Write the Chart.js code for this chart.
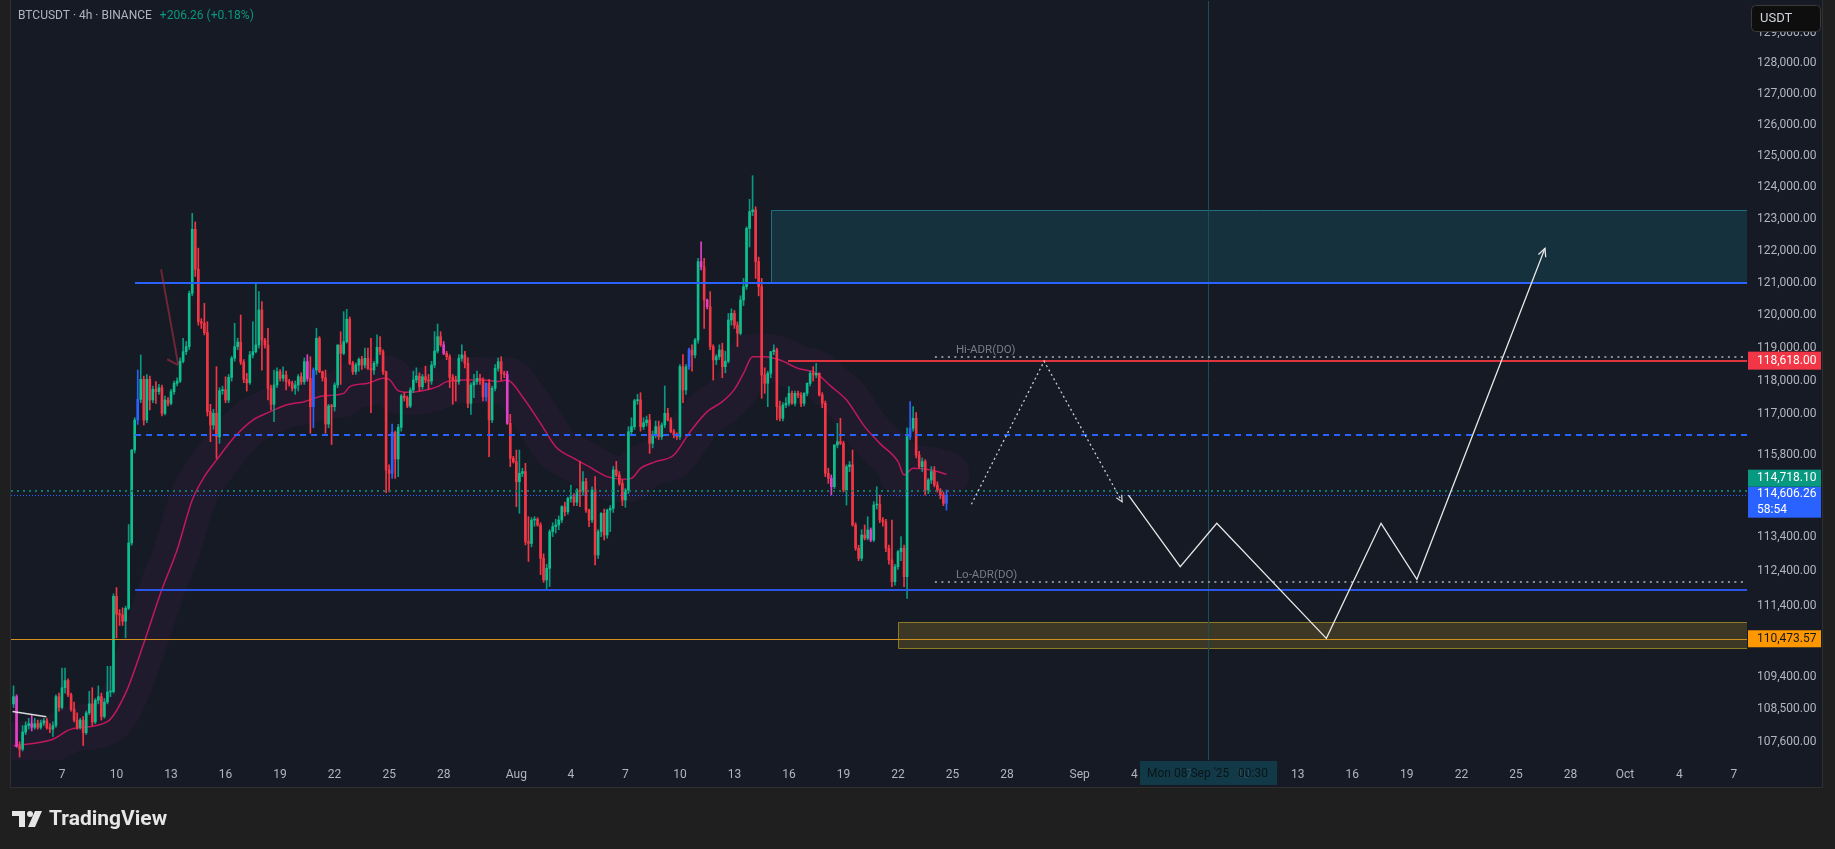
<!DOCTYPE html>
<html>
<head>
<meta charset="utf-8">
<script src="https://cdn.jsdelivr.net/npm/chart.js@4.4.0/dist/chart.umd.min.js"></script>
<style>
  html, body { margin: 0; padding: 0; background: #1f1f1f; overflow: hidden; }
  canvas { display: block; }
</style>
</head>
<body>
<canvas id="btcChart" width="1835" height="849"></canvas>
<script>
// BTCUSDT 4h candles. Day 0 = Jul 1 00:00, first bar Jul 4 08:00
const firstBarDay = 3 + 8 / 24

const opens = [
  108650,108850,107480,107400,107870,108050,108100,108000,108100,108000,
  108120,108180,107990,107950,108050,108850,108550,109100,109300,108900,
  108500,108200,108000,108200,107850,108400,108650,108150,108750,108850,
  108300,108700,108980,108990,111680,111170,111150,110970,111340,113216,
  115937,116830,117450,118054,116830,118054,117430,117750,117680,117800,
  117030,117430,117330,117680,117932,118000,118600,118890,119044,120680,
  122670,121420,119806,119760,119470,117080,116680,117030,116330,117710,
  117740,117430,118110,118690,119044,119180,118575,118054,
  117950,118790,
  118890,119094,120164,119246,119094,117781,117300,117882,118283,118083,
  118183,117983,117932,117781,117882,118132,117982,118586,118083,117230,
  118333,119297,118283,118100,116711,117250,117230,117882,119094,118840,
  119195,119880,118536,118283,118485,118658,118485,118688,118384,118333,
  118536,119023,118890,118283,115346,115248,116463,115672,116612,117550,
  117500,117250,117731,118033,118153,117832,118132,118033,118000,118485,
  118910,119348,119100,118840,118738,118113,118033,117983,118688,118790,
  118536,117330,117882,117982,118083,118033,117530,117932,116831,117781,
  118384,118586,118233,118200,116731,115690,115593,115003,115248,115300,
  113252,113200,113880,113900,113735,112770,112146,112482,113542,113687,
  113735,113880,114270,114120,114514,114560,114400,114757,114708,115003,
  114172,113880,114757,112867,113542,114075,113445,114172,114220,115350,
  115200,114950,114465,114757,116482,116632,117410,117430,116632,116750,
  116831,116135,116400,116632,116334,116682,117030,116831,116482,116384,
  116334,118434,117731,118434,118941,118790,119246,121660,121500,120472,
  120270,119044,118640,118738,118941,118434,118600,119857,120060,119700,
  119450,120472,120884,122700,123224,123280,121660,120884,118183,117932,
  118233,118890,118941,117230,116881,117280,117330,117630,117330,117630,
  117580,117330,117630,117932,118233,118183,118233,117580,117330,115248,
  115100,114855,116085,116185,116135,114757,115445,115500,113735,113060,
  112770,113445,113350,113590,113300,114318,114340,113880,113835,113060,
  112722,112098,112530,112963,113060,112242,116334,116582,116881,115790,
  115445,115593,114757,115052,115300,114905,114757,114611,114367
]
const highs = [
  109150,108900,107600,108050,108150,108250,108350,108250,108200,108200,
  108250,108250,108100,108150,108900,108950,109650,109650,109350,108950,
  108700,108400,108250,108300,108450,109000,109100,108800,109150,108950,
  108800,109700,109700,111750,111930,111300,111350,111400,113750,115950,
  116900,118333,118790,118150,118200,118150,117850,117983,117900,117880,
  117550,117500,117750,118000,118100,118700,119297,119200,120750,123170,
  122900,122080,119900,120370,119806,117300,117150,118434,117800,117850,
  118130,118200,118750,119755,119300,120010,118650,118233,
  118900,119806,
  120970,120730,120420,119300,119604,117882,118333,118400,118350,118434,
  118300,118050,118000,118000,118200,118250,118700,118800,118738,118400,
  119604,119350,118300,118333,117300,117300,117950,119100,119500,120113,
  120185,119950,118600,118550,118700,118750,119000,119000,119297,118600,
  119400,119348,118950,118300,115500,116711,116500,116700,117600,117650,
  117550,117800,118300,118400,118250,118200,118450,118200,118600,119500,
  119735,119500,119200,118900,118800,118200,118150,118800,119100,118900,
  118700,117950,118200,118300,118200,118100,117950,118050,117850,118500,
  118700,118738,118300,118300,117000,115750,115937,115937,115400,115545,
  113980,113950,113980,113950,113800,112900,112600,113600,113800,113900,
  114000,114300,114400,114550,114905,114650,114800,115593,115300,115100,
  114200,114850,115150,113600,114100,114200,114200,114300,115450,115600,
  115300,115050,114800,116632,116900,117450,117600,117650,116900,116950,
  117000,116500,116800,116800,116750,117850,117180,116900,116550,116450,
  118500,118800,118500,119000,119100,119300,121760,122280,121760,120500,
  120730,119100,118800,119100,119150,118900,120060,120200,120150,119800,
  120600,121140,122750,123615,124364,123380,121800,121140,118400,118300,
  118900,119100,119000,117400,117350,117500,117832,117700,117700,117700,
  117650,117650,117950,118300,118436,118536,118250,117650,117400,115400,
  115200,116100,116731,116881,116200,115500,115600,115937,113800,113150,
  113600,113735,113977,113650,114420,114855,114611,113950,113900,113150,
  113880,112600,113000,113400,113150,116600,117380,117232,117050,115900,
  115700,115650,115100,115445,115450,115000,114800,114700,114757
]
const lows = [
  108550,107450,107180,107350,107800,107950,107900,107950,107950,107950,
  108050,107950,107850,107750,108000,108450,108500,108950,108850,108450,
  108150,107950,107950,107500,107800,108350,108050,108100,108650,108200,
  108250,108650,108850,108950,110500,110850,110850,110500,111300,113150,
  115850,116700,117350,116680,116750,117129,117350,117330,117600,116950,
  116980,117250,117280,117600,117850,117950,118550,118800,118950,120600,
  121200,119700,119600,119400,116950,116185,116550,115690,116135,117600,
  117350,117350,118000,118600,118950,118500,117950,117700,
  117900,118700,
  118850,119000,118333,119000,117430,117129,116780,117800,118000,118000,
  117731,117850,117700,117600,117700,117900,117900,118000,116433,116600,
  118200,118250,118000,116433,116600,116100,117100,117800,117900,118800,
  119150,118500,118200,118200,118300,118350,118400,118350,117050,118200,
  118450,118800,118200,114680,114700,115100,115100,115150,116500,117400,
  117200,117200,117650,117950,117700,117750,117950,117750,117900,118400,
  118850,119050,118800,118650,117800,117300,117400,117900,118600,118400,
  117200,117000,117500,117900,117900,117400,117400,115740,116750,117700,
  118300,118030,118100,116700,115445,115550,114270,114075,115150,113156,
  112680,113100,113700,113700,112300,112080,111900,111960,113400,113500,
  113600,113800,114000,114050,114400,114300,114300,114270,114600,114100,
  113687,113800,112578,112770,113400,113300,113350,113542,114100,115150,
  114900,114300,114250,114650,116400,116550,117300,116500,116550,116650,
  115839,116000,116300,116250,116250,116600,116800,116450,116300,116250,
  116250,117350,117600,118350,118300,118700,119150,121400,119600,120200,
  118950,118030,118500,118650,118100,118250,118550,119700,119600,119044,
  119400,120300,120800,122117,123100,121140,120600,117480,117630,117230,
  118100,118800,116831,116800,116800,117200,117250,117300,117250,117500,
  117230,117250,117550,117850,118000,118100,117550,117200,115150,114950,
  114611,114800,116000,116100,114700,114318,115300,113700,113000,112700,
  112700,113300,113300,113250,113250,114200,113800,113700,112960,112600,
  111955,112000,112450,112700,111955,111622,116250,116500,115700,115400,
  115300,114611,114650,114950,114850,114700,114500,114300,114170
]
const closes = [
  108850,107480,107400,107870,108050,108100,108000,108100,108000,108120,
  108180,107990,107950,108050,108850,108550,109100,109300,108900,108500,
  108200,108000,108200,107850,108400,108650,108150,108750,108850,108300,
  108700,108980,108990,111680,111170,111150,110970,111340,113216,115937,
  116830,117450,118054,116830,118054,117430,117750,117680,117800,117030,
  117430,117330,117680,117932,118000,118600,118890,119044,120680,122670,
  121420,119806,119760,119470,117080,116680,117030,116330,117710,117740,
  117430,118110,118690,119044,119180,118575,118054,117950,
  118790,118890,
  119094,120164,119246,119094,117781,117300,117882,118283,118083,118183,
  117983,117932,117781,117882,118132,117982,118586,118083,117230,118333,
  119297,118283,118100,116711,117250,117230,117882,119094,118840,119195,
  119880,118536,118283,118485,118658,118485,118688,118384,118333,118536,
  119023,118890,118283,115346,115248,116463,115672,116612,117550,117500,
  117250,117731,118033,118153,117832,118132,118033,118000,118485,118910,
  119348,119100,118840,118738,118113,118033,117983,118688,118790,118536,
  117330,117882,117982,118083,118033,117530,117932,116831,117781,118384,
  118586,118233,118200,116731,115690,115593,115003,115248,115300,113252,
  113200,113880,113900,113735,112770,112146,112482,113542,113687,113735,
  113880,114270,114120,114514,114560,114400,114757,114708,115003,114172,
  113880,114757,112867,113542,114075,113445,114172,114220,115350,115200,
  114950,114465,114757,116482,116632,117410,117430,116632,116750,116831,
  116135,116400,116632,116334,116682,117030,116831,116482,116384,116334,
  118434,117731,118434,118941,118790,119246,121660,121500,120472,120270,
  119044,118640,118738,118941,118434,118600,119857,120060,119700,119450,
  120472,120884,122700,123224,123280,121660,120884,118183,117932,118233,
  118890,118941,117230,116881,117280,117330,117630,117330,117630,117580,
  117330,117630,117932,118233,118183,118233,117580,117330,115248,115100,
  114855,116085,116185,116135,114757,115445,115500,113735,113060,112770,
  113445,113350,113590,113300,114318,114340,113880,113835,113060,112722,
  112098,112530,112963,113060,112242,116334,116582,116881,115790,115445,
  115593,114757,115052,115300,114905,114757,114611,114367,114606.26
]
// bars painted by the indicator in other colours
const magentaBars = [1, 6, 97, 142, 163, 227, 229, 270, 283]
const blueBars = [41, 99, 125, 156, 223, 296, 308]

// pink moving average (bar index, value)
const maBars = [0,13,19,31,37,43,49,54,59,63,67,73,79,84,90,96,102,109,111,117,
  122,124,127,130,135,140,143,149,155,160,163,168,174,179,185,190,196,201,204,207,
  212,218,223,229,234,238,241,244,248,253,259,265,270,275,281,286,292,294,297,303,308]
const maValues = [107490,107670,107950,108160,108950,110350,111880,113010,114465,115150,
  115640,116330,116830,117050,117280,117380,117550,117630,117832,117932,
  118083,118050,117710,117660,117710,117832,117983,118033,118033,117990,
  118033,117530,116731,116035,115690,115445,115150,115072,115100,115395,
  115593,115790,116433,117080,117380,117750,118233,118738,118738,118637,
  118384,118233,117832,117430,116632,116135,115593,115200,115395,115346,115220]

// axis ticks
const priceTicks = [129000,128000,127000,126000,125000,124000,123000,122000,121000,120000,
  119000,118000,117000,115800,113400,112400,111400,109400,108500,107600]
const dateTickDays = [6,9,12,15,18,21,24,27,31,34,37,40,43,46,49,52,55,58,62,65,68,71,74,77,80,83,86,89,92,95,98]
const dateTickLabels = ['7','10','13','16','19','22','25','28','Aug','4','7','10','13','16','19','22','25','28',
  'Sep','4','7','10','13','16','19','22','25','28','Oct','4','7']

// drawings
const rangeHigh = 121000, rangeMid = 116380, rangeLow = 111870, rangeFromDay = 10.02
const resistance = 118618, resistanceFromDay = 45.95
const support = 110473.57
const hiAdr = 118740, loAdr = 112100, adrFromDay = 54.03
const lastPrice = 114606.26, markPrice = 114718.10
const supplyTop = 123280, supplyBottom = 121000, supplyFromDay = 45.01
const demandTop = 110948, demandBottom = 110210, demandFromDay = 52.0
const cursorDay = 69.06
const projDottedDays = [56.04, 60.04, 64.33]
const projDottedPrices = [114340, 118600, 114415]
const projSolidDays = [64.68, 67.53, 69.54, 75.57, 78.58, 80.55, 87.60]
const projSolidPrices = [114611, 112529, 113784, 110486, 113784, 112166, 122076]
const redArrowDays = [11.45, 12.40, 11.79]
const redArrowPrices = [121420, 118485, 118660]
const whiteTickDays = [3.28, 5.14]
const whiteTickPrices = [108440, 108290]

const UP = '#0dbf8c', UP_WICK = '#089981', DOWN = '#f23645'
const FONT = 'Roboto, "Liberation Sans", sans-serif'

const barDay = (i) => firstBarDay + i / 6
const fmt = (v) => v.toLocaleString('en-US', { minimumFractionDigits: 2, maximumFractionDigits: 2 })

function bodyColor(i) {
  if (magentaBars.includes(i)) return '#e040c8'
  if (blueBars.includes(i)) return '#2962ff'
  return closes[i] >= opens[i] ? UP : DOWN
}
function wickColor(i) {
  if (magentaBars.includes(i)) return '#e040c8'
  if (blueBars.includes(i)) return '#2962ff'
  return closes[i] >= opens[i] ? UP_WICK : DOWN
}

function hLine(c, chart, price, fromDay, color, width, dash) {
  const a = chart.chartArea
  const y = Math.round(chart.scales.y.getPixelForValue(price)) + (width % 2 ? 0.5 : 0)
  const x0 = fromDay == null ? a.left : chart.scales.x.getPixelForValue(fromDay)
  c.beginPath()
  c.setLineDash(dash || [])
  c.strokeStyle = color
  c.lineWidth = width
  c.moveTo(x0, y)
  c.lineTo(a.right, y)
  c.stroke()
  c.setLineDash([])
}

function arrowHead(c, x1, y1, x2, y2, len) {
  const ang = Math.atan2(y2 - y1, x2 - x1)
  c.beginPath()
  c.moveTo(x2 - len * Math.cos(ang - 0.45), y2 - len * Math.sin(ang - 0.45))
  c.lineTo(x2, y2)
  c.lineTo(x2 - len * Math.cos(ang + 0.45), y2 - len * Math.sin(ang + 0.45))
  c.stroke()
}

function axisTag(c, yCenter, h, bg, fg, lines) {
  c.fillStyle = bg
  c.fillRect(1748, yCenter - h / 2, 73, h)
  c.fillStyle = fg
  c.font = '12px ' + FONT
  c.textAlign = 'left'
  c.textBaseline = 'middle'
  const step = h / lines.length
  lines.forEach((t, k) => c.fillText(t, 1757, yCenter - h / 2 + step * (k + 0.5)))
}

const overlay = {
  id: 'overlay',
  beforeDraw(chart) {
    const c = chart.ctx
    c.save()
    c.fillStyle = '#1f1f1f'
    c.fillRect(0, 0, chart.width, chart.height)
    c.fillStyle = '#161a25'
    c.fillRect(10, 0, 1813, 787)
    c.strokeStyle = '#2f2f2f'
    c.lineWidth = 1
    c.strokeRect(10.5, -1, 1812, 788.5)
    c.restore()
  },
  beforeDatasetsDraw(chart) {
    const c = chart.ctx, a = chart.chartArea, xs = chart.scales.x, ys = chart.scales.y
    c.save()
    c.beginPath()
    c.rect(a.left, a.top, a.right - a.left, a.bottom - a.top)
    c.clip()

    // supply zone
    let x0 = Math.round(xs.getPixelForValue(supplyFromDay)) + 0.5
    let y0 = Math.round(ys.getPixelForValue(supplyTop)) + 0.5
    let y1 = ys.getPixelForValue(supplyBottom)
    c.fillStyle = 'rgba(20, 130, 150, 0.22)'
    c.fillRect(x0, y0, a.right - x0, y1 - y0)
    c.strokeStyle = '#1f6f7e'
    c.lineWidth = 1
    c.beginPath()
    c.moveTo(x0, y1); c.lineTo(x0, y0); c.lineTo(a.right, y0)
    c.stroke()

    // demand zone
    x0 = Math.round(xs.getPixelForValue(demandFromDay)) + 0.5
    y0 = Math.round(ys.getPixelForValue(demandTop)) + 0.5
    y1 = Math.round(ys.getPixelForValue(demandBottom)) + 0.5
    c.fillStyle = 'rgba(200, 160, 40, 0.22)'
    c.fillRect(x0, y0, a.right - x0, y1 - y0)
    c.strokeStyle = '#8c7a25'
    c.beginPath()
    c.moveTo(a.right, y0); c.lineTo(x0, y0); c.lineTo(x0, y1); c.lineTo(a.right, y1)
    c.stroke()

    // crosshair
    const cx = Math.round(xs.getPixelForValue(cursorDay)) + 0.5
    c.strokeStyle = '#1b4d5a'
    c.beginPath()
    c.moveTo(cx, a.top); c.lineTo(cx, a.bottom)
    c.stroke()
    c.restore()
  },
  afterDatasetsDraw(chart) {
    const c = chart.ctx, a = chart.chartArea, xs = chart.scales.x, ys = chart.scales.y
    const X = (d) => xs.getPixelForValue(d)
    const Y = (p) => ys.getPixelForValue(p)
    c.save()
    c.beginPath()
    c.rect(a.left, a.top, a.right - a.left, a.bottom - a.top)
    c.clip()

    hLine(c, chart, rangeHigh, rangeFromDay, '#2962ff', 2)
    hLine(c, chart, rangeLow, rangeFromDay, '#2a56e8', 2)
    hLine(c, chart, rangeMid, rangeFromDay, '#2962ff', 2, [6, 5])
    hLine(c, chart, support, null, '#d0901c', 1)
    hLine(c, chart, hiAdr, adrFromDay, '#8a8d96', 2, [2, 4.5])
    hLine(c, chart, loAdr, adrFromDay, '#8a8d96', 2, [2, 4.5])
    hLine(c, chart, resistance, resistanceFromDay, '#e0343f', 2)
    hLine(c, chart, markPrice, null, '#0b7a66', 2, [2, 4])
    hLine(c, chart, lastPrice, null, '#2962ff', 1, [1, 2])

    // ADR labels
    c.font = '11.5px ' + FONT
    c.fillStyle = '#787b86'
    c.textAlign = 'left'
    c.textBaseline = 'middle'
    c.fillText('Hi-ADR(DO)', X(adrFromDay) + 21, Y(hiAdr) - 7)
    c.fillText('Lo-ADR(DO)', X(adrFromDay) + 21, Y(loAdr) - 7)

    // red arrow near the July high
    c.strokeStyle = 'rgba(170, 45, 65, 0.6)'
    c.lineWidth = 2
    c.beginPath()
    c.moveTo(X(redArrowDays[0]), Y(redArrowPrices[0]))
    c.lineTo(X(redArrowDays[1]), Y(redArrowPrices[1]))
    c.moveTo(X(redArrowDays[2]), Y(redArrowPrices[2]))
    c.lineTo(X(redArrowDays[1]), Y(redArrowPrices[1]))
    c.stroke()

    // small white trend stroke at the start
    c.strokeStyle = '#d8d8d8'
    c.lineWidth = 1.5
    c.beginPath()
    c.moveTo(X(whiteTickDays[0]), Y(whiteTickPrices[0]))
    c.lineTo(X(whiteTickDays[1]), Y(whiteTickPrices[1]))
    c.stroke()

    // dotted projection
    c.strokeStyle = 'rgba(235, 235, 235, 0.85)'
    c.lineWidth = 1.3
    c.setLineDash([2, 3])
    c.beginPath()
    projDottedDays.forEach((d, k) => {
      if (k === 0) c.moveTo(X(d), Y(projDottedPrices[k]))
      else c.lineTo(X(d), Y(projDottedPrices[k]))
    })
    c.stroke()
    c.setLineDash([])
    const nd = projDottedDays.length
    arrowHead(c, X(projDottedDays[nd - 2]), Y(projDottedPrices[nd - 2]), X(projDottedDays[nd - 1]), Y(projDottedPrices[nd - 1]), 7)

    // solid projection
    c.strokeStyle = '#e6e6e6'
    c.lineWidth = 1.3
    c.beginPath()
    projSolidDays.forEach((d, k) => {
      if (k === 0) c.moveTo(X(d), Y(projSolidPrices[k]))
      else c.lineTo(X(d), Y(projSolidPrices[k]))
    })
    c.stroke()
    const ns = projSolidDays.length
    arrowHead(c, X(projSolidDays[ns - 2]), Y(projSolidPrices[ns - 2]), X(projSolidDays[ns - 1]), Y(projSolidPrices[ns - 1]), 9)
    c.restore()
  },
  afterDraw(chart) {
    const c = chart.ctx, xs = chart.scales.x, ys = chart.scales.y
    c.save()

    // price tags on the axis
    axisTag(c, ys.getPixelForValue(resistance), 18, '#f23645', '#ffffff', [fmt(resistance)])
    const lastY = ys.getPixelForValue(lastPrice)
    axisTag(c, lastY + 7, 31, '#2962ff', '#ffffff', [fmt(lastPrice), '58:54'])
    axisTag(c, lastY - 17, 17, '#089981', '#ffffff', [fmt(markPrice)])
    axisTag(c, ys.getPixelForValue(support), 17, '#ff9800', '#131722', [fmt(support)])

    // currency button
    c.fillStyle = '#0e0e0e'
    c.strokeStyle = '#3a3a3a'
    c.lineWidth = 1
    c.beginPath()
    c.roundRect(1751.5, 5.5, 69, 26, 4)
    c.fill()
    c.stroke()
    c.fillStyle = '#d1d4dc'
    c.font = '13px ' + FONT
    c.textAlign = 'left'
    c.textBaseline = 'middle'
    c.fillText('USDT', 1760, 18.5)

    // symbol header
    c.font = '12px ' + FONT
    c.fillStyle = '#b2b5be'
    const title = 'BTCUSDT · 4h · BINANCE'
    c.fillText(title, 18, 16)
    c.fillStyle = '#089981'
    c.fillText('+206.26 (+0.18%)', 18 + c.measureText(title).width + 8, 16)

    // crosshair time label
    const cx = xs.getPixelForValue(cursorDay)
    c.fillStyle = 'rgba(18, 64, 78, 0.85)'
    c.fillRect(cx - 68, 761, 137, 24)
    c.fillStyle = '#0a1519'
    c.font = '12px ' + FONT
    c.fillText("Mon 08 Sep '25", cx - 61, 774)
    c.fillText('00:30', cx + 30, 774)

    // TradingView mark
    c.fillStyle = '#e6e6e6'
    c.fillRect(12, 811, 13, 5)
    c.fillRect(19, 811, 6, 16)
    c.beginPath()
    c.arc(30, 814, 3, 0, Math.PI * 2)
    c.fill()
    c.beginPath()
    c.moveTo(35, 811); c.lineTo(42, 811); c.lineTo(35, 827); c.lineTo(28, 827)
    c.closePath()
    c.fill()
    c.font = 'bold 21px ' + FONT
    c.textBaseline = 'middle'
    c.fillText('TradingView', 49, 820)
    c.restore()
  }
}

const ctx = document.getElementById('btcChart')
Chart.defaults.font.family = FONT
Chart.defaults.color = '#b2b5be'

const bodies = opens.map((o, i) => ({ x: barDay(i), y: [o, closes[i]] }))
const wicks = lows.map((l, i) => ({ x: barDay(i), y: [l, highs[i]] }))
const maPoints = maBars.map((b, k) => ({ x: barDay(b), y: maValues[k] }))

new Chart(ctx, {
  type: 'bar',
  data: {
    datasets: [
      {
        label: 'bodies',
        data: bodies,
        backgroundColor: opens.map((_, i) => bodyColor(i)),
        barThickness: 2,
        minBarLength: 1,
        grouped: false,
        order: 1,
      },
      {
        label: 'wicks',
        data: wicks,
        backgroundColor: opens.map((_, i) => wickColor(i)),
        barThickness: 1,
        minBarLength: 1,
        grouped: false,
        order: 2,
      },
      {
        type: 'line',
        label: 'ma',
        data: maPoints,
        borderColor: '#c2185b',
        borderWidth: 1.5,
        pointRadius: 0,
        cubicInterpolationMode: 'monotone',
        clip: 0,
        order: 3,
      },
      {
        type: 'line',
        label: 'ma band',
        data: maPoints,
        borderColor: 'rgba(130, 50, 140, 0.085)',
        borderWidth: 46,
        borderJoinStyle: 'round',
        borderCapStyle: 'round',
        pointRadius: 0,
        cubicInterpolationMode: 'monotone',
        clip: 0,
        order: 4,
      },
    ],
  },
  options: {
    responsive: false,
    animation: false,
    events: [],
    layout: { padding: { left: 11, top: 1, right: 0, bottom: 0 } },
    plugins: { legend: { display: false }, tooltip: { enabled: false } },
    scales: {
      x: {
        type: 'linear',
        min: 3.1938,
        max: 98.716,
        offset: false,
        grid: { display: false, drawTicks: false },
        border: { display: false },
        ticks: {
          autoSkip: false,
          maxRotation: 0,
          minRotation: 0,
          padding: 8,
          color: '#b2b5be',
          font: { size: 12 },
          callback: (v) => {
            const k = dateTickDays.indexOf(v)
            return k >= 0 ? dateTickLabels[k] : ''
          },
        },
        afterBuildTicks: (scale) => {
          scale.ticks = dateTickDays.map((d) => ({ value: d }))
        },
        afterFit: (scale) => {
          scale.height = 89
          scale.paddingLeft = 0
          scale.paddingRight = 0
        },
      },
      y: {
        type: 'logarithmic',
        position: 'right',
        min: 107101,
        max: 130046,
        grid: { display: false, drawTicks: false },
        border: { display: false },
        ticks: {
          autoSkip: false,
          padding: 10,
          color: '#b2b5be',
          font: { size: 12 },
          callback: (v) => fmt(v),
        },
        afterBuildTicks: (scale) => {
          scale.ticks = priceTicks.map((p) => ({ value: p }))
        },
        afterFit: (scale) => {
          scale.width = 88
          scale.paddingTop = 0
          scale.paddingBottom = 0
        },
      },
    },
  },
  plugins: [overlay],
})
</script>
</body>
</html>
